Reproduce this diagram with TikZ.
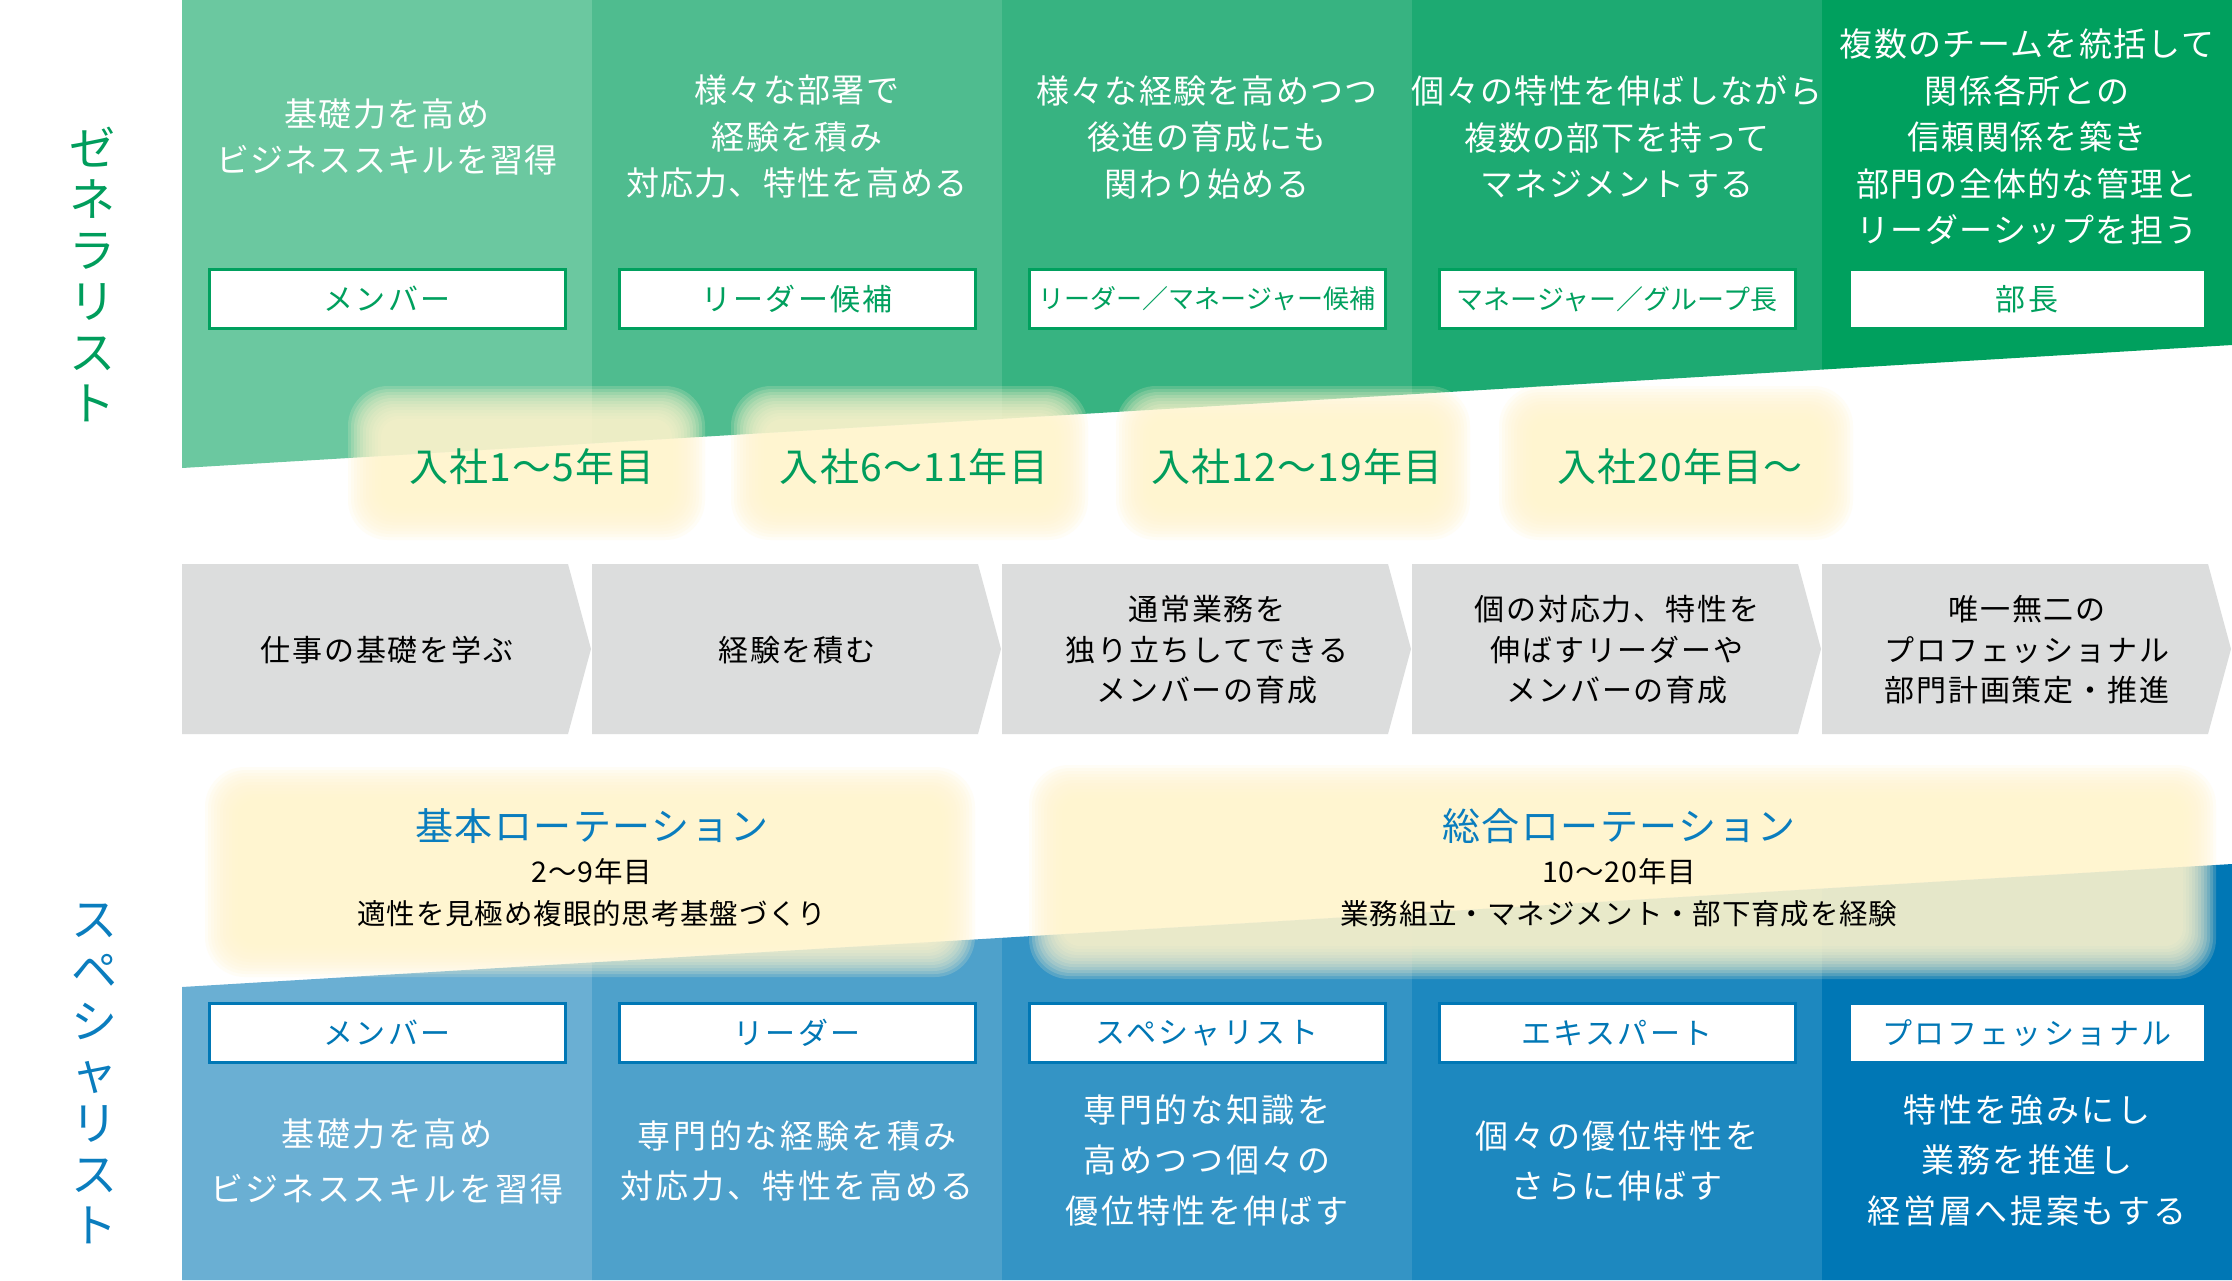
\documentclass[tikz,border=0pt]{standalone}
\usepackage{fontspec}
\setmainfont{Noto Sans CJK JP}
\definecolor{ga}{HTML}{6BC8A0}
\definecolor{gb}{HTML}{4FBC8F}
\definecolor{gc}{HTML}{37B381}
\definecolor{gd}{HTML}{1DAA72}
\definecolor{ge}{HTML}{00A05E}
\definecolor{ba}{HTML}{6AAFD3}
\definecolor{bb}{HTML}{4EA1CB}
\definecolor{bc}{HTML}{3494C5}
\definecolor{bd}{HTML}{1D88BF}
\definecolor{be}{HTML}{0077B5}
\definecolor{gtext}{HTML}{009D5C}
\definecolor{btext}{HTML}{0A7DBE}
\definecolor{chevc}{HTML}{DCDDDD}
\definecolor{glowc}{HTML}{FFF5CE}
\newcommand\glowbox[4]{%
  \foreach \k in {0,...,11}{%
    \pgfmathsetmacro\rr{40-\k*2}%
    \fill[glowc, opacity=0.18, rounded corners=\rr pt] ({#1+\k*3},{#2+\k*3}) rectangle ({#3-\k*3},{#4-\k*3});
  }}
\tikzset{
  desc/.style={text=white, align=center, inner sep=0pt,
    font=\fontsize{33}{46.5}\selectfont\addfontfeatures{LetterSpace=4}},
  bdesc/.style={text=white, align=center, inner sep=0pt,
    font=\fontsize{33}{50.5}\selectfont\addfontfeatures{LetterSpace=8}},
  rolebox/.style={fill=white, draw=#1, line width=3pt, minimum width=356pt, minimum height=59pt, inner sep=0pt,
    text=#1, font=\fontsize{30}{34}\selectfont\addfontfeatures{LetterSpace=8}},
  longrole/.style={font=\fontsize{#1}{34}\selectfont},
  yearlab/.style={text=gtext, inner sep=0pt, font=\fontsize{39}{44}\selectfont\addfontfeatures{LetterSpace=3}},
  chevtext/.style={text=black, align=center, inner sep=0pt,
    font=\fontsize{30}{40.5}\selectfont\addfontfeatures{LetterSpace=6}},
  rottitle/.style={text=btext, inner sep=0pt, font=\fontsize{38}{44}\selectfont\addfontfeatures{LetterSpace=4}},
  rotsub/.style={text=black, inner sep=0pt, font=\fontsize{28.5}{34}\selectfont\addfontfeatures{LetterSpace=3}},
  vlab/.style={align=center, inner sep=0pt, font=\fontsize{46}{51}\selectfont},
}
\begin{document}
\begin{tikzpicture}[x=1pt,y=-1pt]
\useasboundingbox (0,0) rectangle (2232,1280);
\fill[white] (0,0) rectangle (2232,1280);
% top green columns
\foreach \i/\c in {0/ga,1/gb,2/gc,3/gd,4/ge}{
  \pgfmathsetmacro\xa{182+410*\i}
  \pgfmathsetmacro\xb{182+410*(\i+1)}
  \pgfmathsetmacro\ya{468-(\xa-182)*0.06}
  \pgfmathsetmacro\yb{468-(\xb-182)*0.06}
  \fill[\c] (\xa,0) -- (\xb,0) -- (\xb,\yb) -- (\xa,\ya) -- cycle;
}
% bottom blue columns
\foreach \i/\c in {0/ba,1/bb,2/bc,3/bd,4/be}{
  \pgfmathsetmacro\xa{182+410*\i}
  \pgfmathsetmacro\xb{182+410*(\i+1)}
  \pgfmathsetmacro\ya{987-(\xa-182)*0.06}
  \pgfmathsetmacro\yb{987-(\xb-182)*0.06}
  \fill[\c] (\xa,\ya) -- (\xb,\yb) -- (\xb,1280) -- (\xa,1280) -- cycle;
}
% chevrons
\foreach \i in {0,...,4}{
  \pgfmathsetmacro\xa{182+410*\i}
  \fill[chevc] (\xa,564) -- (\xa+386,564) -- (\xa+409,649) -- (\xa+386,734) -- (\xa,734) -- cycle;
}
% glows
\glowbox{348}{386}{705}{540}
\glowbox{731}{386}{1088}{540}
\glowbox{1116}{386}{1470}{540}
\glowbox{1499}{386}{1853}{540}
\glowbox{205}{767}{975}{977}
\glowbox{1029}{765}{2216}{979}

% vertical labels
\node[vlab, text=gtext] (vgen) at (92,274) {ゼ\\ネ\\ラ\\リ\\ス\\ト};
\node[vlab, text=btext] (vspe) at (94,1074) {ス\\ペ\\シ\\ャ\\リ\\ス\\ト};

% top descriptions
\node[desc] (td1) at (387,137) {基礎力を高め\\ビジネススキルを習得};
\node[desc] (td2) at (797,137) {様々な部署で\\経験を積み\\対応力、特性を高める};
\node[desc] (td3) at (1207,137) {様々な経験を高めつつ\\後進の育成にも\\関わり始める};
\node[desc] (td4) at (1617,137) {個々の特性を伸ばしながら\\複数の部下を持って\\マネジメントする};
\node[desc] (td5) at (2027,137) {複数のチームを統括して\\関係各所との\\信頼関係を築き\\部門の全体的な管理と\\リーダーシップを担う};

% top role boxes
\node[rolebox=ge] (tr1) at (387,299) {メンバー};
\node[rolebox=ge] (tr2) at (797,299) {リーダー候補};
\node[rolebox=ge, longrole=26] (tr3) at (1207,299) {リーダー／マネージャー候補};
\node[rolebox=ge, longrole=27] (tr4) at (1617,299) {マネージャー／グループ長};
\node[rolebox=ge] (tr5) at (2027,299) {部長};

% years
\node[yearlab] (y1) at (532,467) {入社1～5年目};
\node[yearlab] (y2) at (914,467) {入社6～11年目};
\node[yearlab] (y3) at (1297,467) {入社12～19年目};
\node[yearlab] (y4) at (1680,467) {入社20年目～};

% chevron texts
\node[chevtext] (c1) at (387,650) {仕事の基礎を学ぶ};
\node[chevtext] (c2) at (797,650) {経験を積む};
\node[chevtext] (c3) at (1207,650) {通常業務を\\独り立ちしてできる\\メンバーの育成};
\node[chevtext] (c4) at (1617,650) {個の対応力、特性を\\伸ばすリーダーや\\メンバーの育成};
\node[chevtext] (c5) at (2027,650) {唯一無二の\\プロフェッショナル\\部門計画策定・推進};

% rotations
\node[rottitle] (r1t) at (592,826) {基本ローテーション};
\node[rotsub] (r1y) at (592,872) {2～9年目};
\node[rotsub] (r1d) at (592,914) {適性を見極め複眼的思考基盤づくり};
\node[rottitle] (r2t) at (1619,826) {総合ローテーション};
\node[rotsub] (r2y) at (1619,872) {10～20年目};
\node[rotsub] (r2d) at (1619,914) {業務組立・マネジメント・部下育成を経験};

% bottom role boxes
\node[rolebox=be] (br1) at (387,1033) {メンバー};
\node[rolebox=be] (br2) at (797,1033) {リーダー};
\node[rolebox=be] (br3) at (1207,1033) {スペシャリスト};
\node[rolebox=be] (br4) at (1617,1033) {エキスパート};
\node[rolebox=be] (br5) at (2027,1033) {プロフェッショナル};

% bottom descriptions
\node[bdesc, font=\fontsize{33}{55}\selectfont\addfontfeatures{LetterSpace=8}] (bd1) at (387,1161) {基礎力を高め\\ビジネススキルを習得};
\node[bdesc] (bd2) at (797,1161) {専門的な経験を積み\\対応力、特性を高める};
\node[bdesc] (bd3) at (1207,1160) {専門的な知識を\\高めつつ個々の\\優位特性を伸ばす};
\node[bdesc] (bd4) at (1617,1161) {個々の優位特性を\\さらに伸ばす};
\node[bdesc] (bd5) at (2027,1160) {特性を強みにし\\業務を推進し\\経営層へ提案もする};
\end{tikzpicture}
\end{document}
